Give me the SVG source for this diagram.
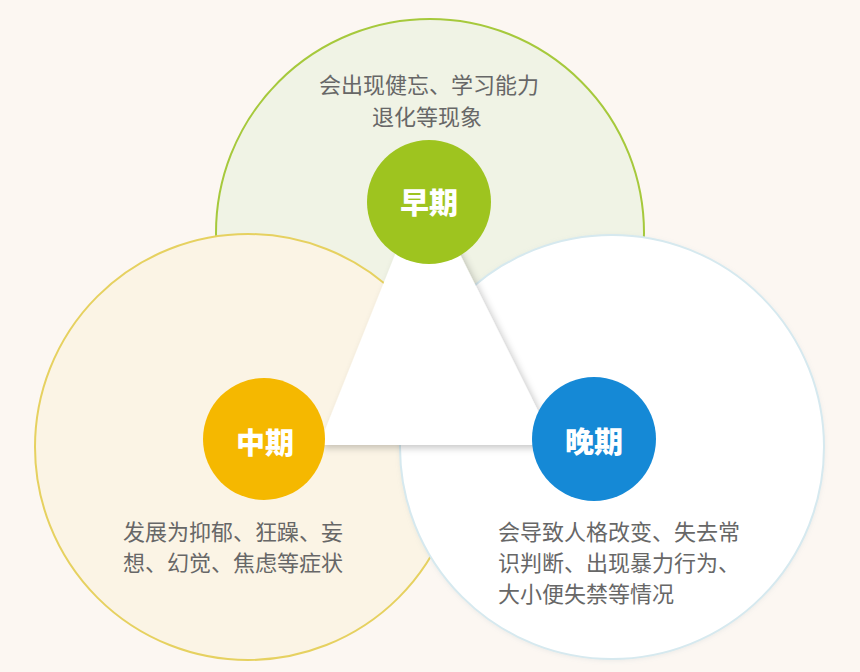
<svg xmlns="http://www.w3.org/2000/svg" width="860" height="672" viewBox="0 0 860 672">
  <style>
    .desc { font-family: "Noto Sans CJK SC", "Noto Sans", sans-serif; font-size: 22px; fill: #676767; }
    .label { font-family: "Noto Sans CJK SC", "Noto Sans", sans-serif; font-size: 29px; font-weight: 900; fill: #ffffff; text-anchor: middle; }
  </style>
  <defs>
    <filter id="shadow" x="-20%" y="-20%" width="140%" height="140%">
      <feDropShadow dx="3" dy="3" stdDeviation="3.5" flood-color="#000000" flood-opacity="0.22"/>
    </filter>
    <filter id="soft" x="-10%" y="-10%" width="120%" height="120%">
      <feDropShadow dx="0" dy="1" stdDeviation="2" flood-color="#8aa4ad" flood-opacity="0.15"/>
    </filter>
  </defs>
  <rect x="0" y="0" width="860" height="672" fill="#fcf7f2"/>

  <g id="zone-early">
    <circle cx="430" cy="233" r="214" fill="#f0f3e5" stroke="#a6c93c" stroke-width="2"/>
    <text class="desc" x="429" y="93" text-anchor="middle">会出现健忘、学习能力</text>
    <text class="desc" x="427" y="125" text-anchor="middle">退化等现象</text>
  </g>

  <g id="zone-mid">
    <circle cx="248" cy="447" r="213" fill="#fbf4e5" stroke="#e6d160" stroke-width="2"/>
    <text class="desc" x="123" y="540">发展为抑郁、狂躁、妄</text>
    <text class="desc" x="123" y="571">想、幻觉、焦虑等症状</text>
  </g>

  <g id="zone-late">
    <circle cx="612" cy="447" r="212" fill="#ffffff" stroke="#d6e9ef" stroke-width="2" filter="url(#soft)"/>
    <text class="desc" x="498" y="540">会导致人格改变、失去常</text>
    <text class="desc" x="498" y="571">识判断、出现暴力行为、</text>
    <text class="desc" x="498" y="602">大小便失禁等情况</text>
  </g>

  <g id="connectors">
    <polygon points="424,182 555,445 319,445" fill="#ffffff" filter="url(#shadow)"/>
  </g>

  <g id="node-early">
    <circle cx="429" cy="202" r="62" fill="#9ec41f"/>
    <text class="label" x="429" y="214">早期</text>
  </g>

  <g id="node-mid">
    <circle cx="264" cy="439" r="61" fill="#f5b800"/>
    <text class="label" x="265" y="454">中期</text>
  </g>

  <g id="node-late">
    <circle cx="594" cy="439" r="62" fill="#1589d6"/>
    <text class="label" x="594" y="453">晚期</text>
  </g>
</svg>
